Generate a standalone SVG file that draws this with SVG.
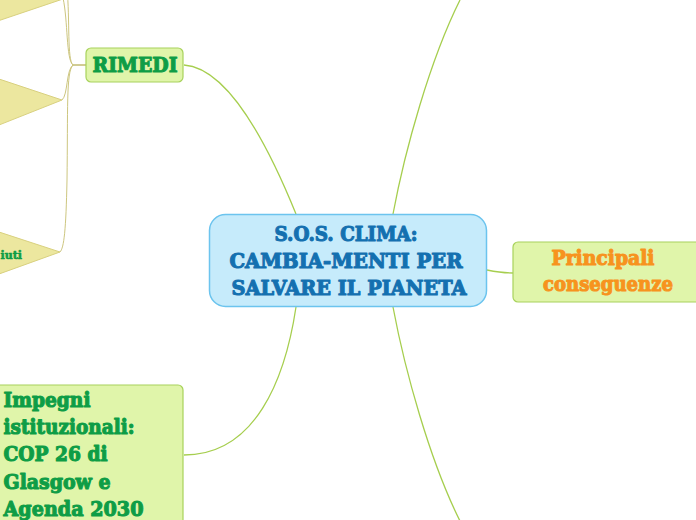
<svg xmlns="http://www.w3.org/2000/svg" width="696" height="520" viewBox="0 0 696 520">
<style>
.t{font-family:"DejaVu Serif","Liberation Serif",serif;font-weight:bold;font-size:20px;stroke-linejoin:round;}
.blue{fill:#1470b0;stroke:#1470b0;stroke-width:1.1;}
.green{fill:#0e9d46;stroke:#0e9d46;stroke-width:1.1;}
.orange{fill:#f7931e;stroke:#f7931e;stroke-width:1.1;}
.sm{font-size:11px;stroke-width:0.6;}
.sub{fill:#e0f5aa;stroke:#a8d25c;stroke-width:1.2;}
.tri{fill:#ece79f;stroke:#d8d07f;stroke-width:1;}
.c{fill:none;stroke:#a6ce4e;stroke-width:1.3;}
.cb{fill:none;stroke:#cdc67f;stroke-width:1;}
</style>
<g id="connectors">
<path class="c" d="M296,214 C270,150 230,68 184,65"/>
<path class="c" d="M393,214 C405,150 430,60 460,0"/>
<path class="c" d="M487,270 C497,272 503,273 513,273"/>
<path class="c" d="M393,307 C405,371 430,461 460,521"/>
<path class="c" d="M296,307 C285,380 255,455 184,455"/>
<path d="M73,65 L86,65" fill="none" stroke="#b8b05a" stroke-width="1.3"/>
<path class="cb" d="M73,65 C66,60 68,20 63,-2"/>
<path class="cb" d="M73,65 C67,60 70,20 67,-12"/>
<path class="cb" d="M73,65 C66,70 68,95 62,100"/>
<path class="cb" d="M73,65 C66,72 68,110 67,180 C66,230 64,248 60,252"/>
</g>
<g id="node-top-left">
<polygon class="tri" points="-20,-40 63,-1 -20,27"/>
</g>
<g id="node-mid-left">
<polygon class="tri" points="-1,79 62,100 -1,125"/>
</g>
<g id="node-rifiuti">
<polygon class="tri" points="-1,232 60,252 -1,274"/>
<text class="t green sm" x="22" y="259" text-anchor="end">iuti</text>
</g>
<g id="node-rimedi">
<rect class="sub" x="86" y="48" width="97" height="34" rx="5"/>
<text class="t green" x="135" y="72" text-anchor="middle" textLength="85" lengthAdjust="spacingAndGlyphs">RIMEDI</text>
</g>
<g id="node-center">
<rect x="209.5" y="214.5" width="277" height="92" rx="16" fill="#c6ebfb" stroke="#6cc4ee" stroke-width="1.5"/>
<text class="t blue" x="346" y="241" text-anchor="middle" textLength="143" lengthAdjust="spacingAndGlyphs">S.O.S. CLIMA:</text>
<text class="t blue" x="346" y="268" text-anchor="middle" textLength="233" lengthAdjust="spacingAndGlyphs">CAMBIA-MENTI PER</text>
<text class="t blue" x="349" y="295" text-anchor="middle" textLength="235" lengthAdjust="spacingAndGlyphs">SALVARE IL PIANETA</text>
</g>
<g id="node-conseguenze">
<rect class="sub" x="513" y="242" width="200" height="60" rx="5"/>
<text class="t orange" x="603" y="265" text-anchor="middle" textLength="103" lengthAdjust="spacingAndGlyphs">Principali</text>
<text class="t orange" x="608" y="291" text-anchor="middle" textLength="130" lengthAdjust="spacingAndGlyphs">conseguenze</text>
</g>
<g id="node-impegni">
<rect class="sub" x="-10" y="385" width="193" height="150" rx="5"/>
<text class="t green" x="3.5" y="407" textLength="87" lengthAdjust="spacingAndGlyphs">Impegni</text>
<text class="t green" x="3.5" y="434" textLength="131" lengthAdjust="spacingAndGlyphs">istituzionali:</text>
<text class="t green" x="3.5" y="461" textLength="104" lengthAdjust="spacingAndGlyphs">COP 26 di</text>
<text class="t green" x="3.5" y="489" textLength="107" lengthAdjust="spacingAndGlyphs">Glasgow e</text>
<text class="t green" x="3.5" y="516" textLength="140" lengthAdjust="spacingAndGlyphs">Agenda 2030</text>
</g>
</svg>
